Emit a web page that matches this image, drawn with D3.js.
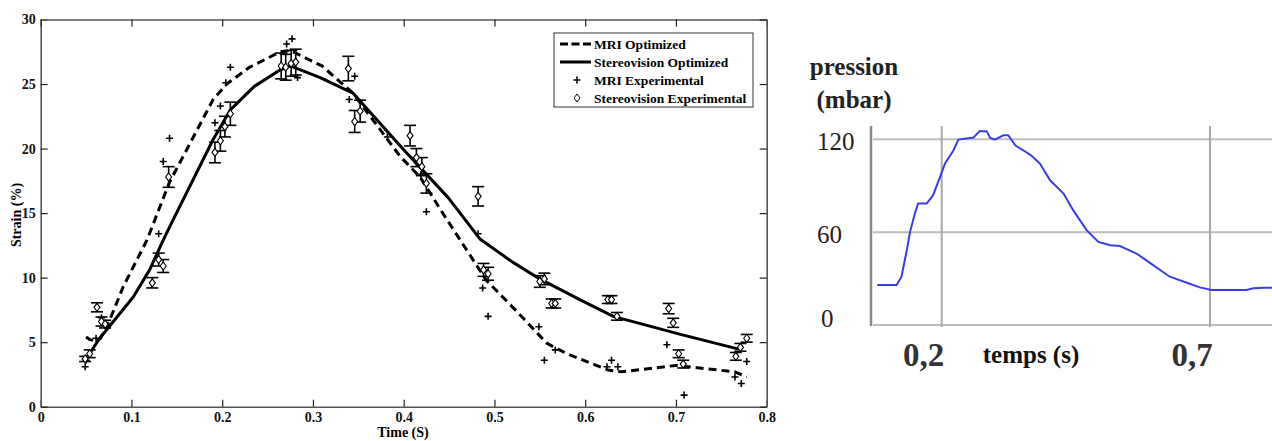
<!DOCTYPE html>
<html>
<head>
<meta charset="utf-8">
<script src="https://cdn.jsdelivr.net/npm/d3@7/dist/d3.min.js"></script>
<style>
  body { margin: 0; background: #fff; }
  svg { display: block; }
  text { font-family: "Liberation Serif", "Times New Roman", serif; }
</style>
</head>
<body>
<svg id="canvas"></svg>
<script>
// Page size
const width = 1272, height = 441;

// ---- Left chart data: strain (%) vs time (s) ----
const xTicks = [0, 0.1, 0.2, 0.3, 0.4, 0.5, 0.6, 0.7, 0.8];
const yTicks = [0, 5, 10, 15, 20, 25, 30];

// MRI Optimized (dashed)
const mriOptT = [0.05, 0.054, 0.06, 0.066, 0.076, 0.091, 0.117, 0.142, 0.19, 0.205, 0.23, 0.264, 0.275, 0.31, 0.344, 0.396, 0.418, 0.443, 0.491, 0.523, 0.558, 0.58, 0.625, 0.64, 0.70, 0.765, 0.778];
const mriOptS = [5.4, 5.2, 5.1, 5.3, 6.7, 9.3, 12.9, 17.4, 23.8, 25.0, 26.3, 27.5, 27.6, 26.4, 24.3, 19.4, 17.8, 15.0, 9.8, 7.5, 4.9, 4.1, 2.85, 2.7, 3.2, 2.7, 2.3];

// Stereovision Optimized (solid)
const stereoOptT = [0.05, 0.065, 0.102, 0.12, 0.135, 0.146, 0.19, 0.209, 0.235, 0.264, 0.275, 0.308, 0.344, 0.40, 0.449, 0.484, 0.52, 0.55, 0.594, 0.631, 0.705, 0.767, 0.774];
const stereoOptS = [3.7, 5.3, 8.5, 10.6, 12.9, 14.5, 20.7, 23.0, 24.8, 26.1, 26.4, 25.5, 24.3, 19.9, 16.2, 13.0, 11.2, 9.9, 8.3, 7.0, 5.6, 4.5, 4.6];

// MRI Experimental (+)
const mriExpT = [0.049, 0.05, 0.061, 0.067, 0.13, 0.135, 0.142, 0.192, 0.198, 0.204, 0.209, 0.271, 0.277, 0.283, 0.34, 0.346, 0.382, 0.419, 0.425, 0.482, 0.487, 0.493, 0.549, 0.555, 0.567, 0.624, 0.629, 0.636, 0.69, 0.709, 0.765, 0.772, 0.778];
const mriExpS = [3.1, 3.6, 5.3, 6.9, 13.4, 19.0, 20.8, 22.0, 23.3, 25.1, 26.3, 28.1, 28.5, 25.5, 23.8, 25.6, 20.9, 18.0, 15.1, 13.4, 9.2, 7.0, 6.2, 3.6, 4.4, 3.1, 3.6, 3.1, 4.8, 0.9, 2.3, 1.8, 3.5];

// Stereovision Experimental (diamond + error bar)
const stereoExpT = [0.049, 0.054, 0.062, 0.067, 0.071, 0.123, 0.130, 0.135, 0.141, 0.192, 0.198, 0.203, 0.209, 0.265, 0.270, 0.276, 0.281, 0.339, 0.346, 0.352, 0.407, 0.414, 0.420, 0.425, 0.482, 0.488, 0.493, 0.550, 0.555, 0.563, 0.567, 0.625, 0.629, 0.635, 0.692, 0.697, 0.703, 0.708, 0.766, 0.771, 0.778];
const stereoExpS = [3.7, 4.1, 7.7, 6.6, 6.4, 9.6, 11.4, 10.9, 17.8, 19.7, 20.6, 21.7, 22.7, 26.4, 26.3, 26.6, 26.7, 26.2, 22.1, 22.9, 21.0, 19.3, 18.6, 17.3, 16.3, 10.6, 10.3, 9.7, 9.9, 8.0, 8.0, 8.3, 8.3, 7.0, 7.6, 6.5, 4.1, 3.3, 3.9, 4.6, 5.3];
const stereoExpErr = [0.2, 0.3, 0.35, 0.35, 0.3, 0.4, 0.5, 0.5, 0.8, 0.8, 0.8, 0.8, 0.9, 1.0, 1.0, 1.0, 1.0, 0.95, 0.85, 0.85, 0.8, 0.7, 0.7, 0.75, 0.75, 0.5, 0.5, 0.45, 0.45, 0.35, 0.35, 0.3, 0.3, 0.3, 0.4, 0.35, 0.3, 0.3, 0.3, 0.3, 0.3];

const legendLabels = ["MRI Optimized", "Stereovision Optimized", "MRI Experimental", "Stereovision Experimental"];

// ---- Right chart data: pression (mbar) vs temps (s) ----
const pTicks = [0, 60, 120];
const tTicks = [0.2, 0.7];
const tTickLabels = ["0,2", "0,7"];
const presT = [0.08, 0.116, 0.125, 0.135, 0.141, 0.15, 0.156, 0.172, 0.184, 0.197, 0.206, 0.222, 0.231, 0.259, 0.271, 0.284, 0.29, 0.299, 0.315, 0.324, 0.337, 0.352, 0.367, 0.383, 0.402, 0.427, 0.445, 0.47, 0.492, 0.514, 0.532, 0.563, 0.594, 0.625, 0.657, 0.681, 0.703, 0.725, 0.768, 0.781, 0.80, 0.816];
const presP = [25.8, 25.8, 31.2, 48.4, 60.2, 72, 78.5, 78.5, 83.9, 95.7, 104.3, 112.9, 119.8, 121.1, 125.3, 125.1, 121.1, 119.8, 122.6, 122.6, 116.1, 112.9, 109.5, 104.3, 93.5, 84.9, 74.2, 61.3, 53.7, 51.6, 51, 46.2, 38.7, 31.2, 27.3, 24.3, 22.6, 22.6, 22.6, 23.7, 24.1, 24];

const svg = d3.select("#canvas")
    .attr("width", width)
    .attr("height", height);

// ================= Left chart =================
const x = d3.scaleLinear().domain([0, 0.8]).range([40.7, 766.7]);
const y = d3.scaleLinear().domain([0, 30]).range([406.7, 19.5]);

const left = svg.append("g");
const axisColor = "#555";

// Axes (MATLAB style box with inward ticks)
const gx = left.append("g")
    .attr("transform", `translate(0,${y(0)})`)
    .call(d3.axisBottom(x).tickValues(xTicks).tickFormat(d => d === 0 ? "0" : d3.format(".1f")(d))
        .tickSizeInner(-7).tickSizeOuter(0).tickPadding(5));
const gy = left.append("g")
    .attr("transform", `translate(${x(0)},0)`)
    .call(d3.axisLeft(y).tickValues(yTicks).tickSizeInner(-7).tickSizeOuter(0).tickPadding(5));
const gxTop = left.append("g")
    .attr("transform", `translate(0,${y(30)})`)
    .call(d3.axisTop(x).tickValues(xTicks).tickFormat("").tickSizeInner(-7).tickSizeOuter(0));
const gyRight = left.append("g")
    .attr("transform", `translate(${x(0.8)},0)`)
    .call(d3.axisRight(y).tickValues(yTicks).tickFormat("").tickSizeInner(-7).tickSizeOuter(0));

[gx, gy, gxTop, gyRight].forEach(g => {
    g.select(".domain").attr("stroke", axisColor).attr("stroke-width", 1.6);
    g.selectAll(".tick line").attr("stroke", "#222").attr("stroke-width", 1.2);
    g.selectAll("text")
        .attr("font-family", "Liberation Serif, serif")
        .attr("font-weight", "bold")
        .attr("font-size", 14)
        .attr("fill", "#111");
});

// Axis titles
left.append("text")
    .attr("x", 403).attr("y", 437)
    .attr("text-anchor", "middle")
    .attr("font-weight", "bold").attr("font-size", 14)
    .text("Time (S)");
left.append("text")
    .attr("transform", "translate(21,215) rotate(-90)")
    .attr("text-anchor", "middle")
    .attr("font-weight", "bold").attr("font-size", 14)
    .text("Strain (%)");

// Lines
const line = d3.line().x(d => x(d[0])).y(d => y(d[1]));

left.append("path")
    .datum(mriOptT.map((t, i) => [t, mriOptS[i]]))
    .attr("d", line)
    .attr("fill", "none")
    .attr("stroke", "#000")
    .attr("stroke-width", 3)
    .attr("stroke-linejoin", "round")
    .attr("stroke-dasharray", "8,5");

left.append("path")
    .datum(stereoOptT.map((t, i) => [t, stereoOptS[i]]))
    .attr("d", line)
    .attr("fill", "none")
    .attr("stroke", "#000")
    .attr("stroke-linejoin", "round")
    .attr("stroke-width", 3);

// MRI experimental plus markers
const plusPath = "M-3.5,0H3.5M0,-3.5V3.5";
left.append("g").selectAll("path")
    .data(mriExpT.map((t, i) => [t, mriExpS[i]]))
    .enter().append("path")
    .attr("d", plusPath)
    .attr("transform", d => `translate(${x(d[0])},${y(d[1])})`)
    .attr("stroke", "#000")
    .attr("stroke-width", 1.6);

// Stereovision experimental error bars + diamonds
const stereoPts = stereoExpT.map((t, i) => ({ t, s: stereoExpS[i], e: stereoExpErr[i] }));
const eb = left.append("g").selectAll("g")
    .data(stereoPts)
    .enter().append("g")
    .attr("stroke", "#000")
    .attr("stroke-width", 1.6)
    .attr("fill", "none");
eb.append("line")
    .attr("x1", d => x(d.t)).attr("x2", d => x(d.t))
    .attr("y1", d => y(d.s - d.e)).attr("y2", d => y(d.s + d.e));
eb.append("line")
    .attr("x1", d => x(d.t) - 6).attr("x2", d => x(d.t) + 6)
    .attr("y1", d => y(d.s + d.e)).attr("y2", d => y(d.s + d.e));
eb.append("line")
    .attr("x1", d => x(d.t) - 6).attr("x2", d => x(d.t) + 6)
    .attr("y1", d => y(d.s - d.e)).attr("y2", d => y(d.s - d.e));

const diamondPath = "M0,-4L3,0L0,4L-3,0Z";
left.append("g").selectAll("path")
    .data(stereoPts)
    .enter().append("path")
    .attr("d", diamondPath)
    .attr("transform", d => `translate(${x(d.t)},${y(d.s)})`)
    .attr("fill", "#fff")
    .attr("stroke", "#000")
    .attr("stroke-width", 1.1);

// Legend
const legend = left.append("g");
legend.append("rect")
    .attr("x", 554).attr("y", 33)
    .attr("width", 199).attr("height", 74)
    .attr("fill", "#fff")
    .attr("stroke", "#333")
    .attr("stroke-width", 1);
const legY = [44, 62, 80, 98];
legend.append("line")
    .attr("x1", 560).attr("x2", 591).attr("y1", legY[0]).attr("y2", legY[0])
    .attr("stroke", "#000").attr("stroke-width", 3).attr("stroke-dasharray", "8,3.5");
legend.append("line")
    .attr("x1", 560).attr("x2", 591).attr("y1", legY[1]).attr("y2", legY[1])
    .attr("stroke", "#000").attr("stroke-width", 3);
legend.append("path")
    .attr("d", plusPath)
    .attr("transform", `translate(577,${legY[2]})`)
    .attr("stroke", "#000").attr("stroke-width", 1.6);
legend.append("path")
    .attr("d", diamondPath)
    .attr("transform", `translate(577,${legY[3]})`)
    .attr("fill", "#fff").attr("stroke", "#000").attr("stroke-width", 1);
legend.selectAll("text")
    .data(legendLabels)
    .enter().append("text")
    .attr("x", 594)
    .attr("y", (d, i) => legY[i])
    .attr("dy", "0.35em")
    .attr("font-weight", "bold")
    .attr("font-size", 13.5)
    .text(d => d);

// ================= Right chart =================
const xp = d3.scaleLinear().domain([0.2, 0.7]).range([941.7, 1210]);
const yp = d3.scaleLinear().domain([0, 120]).range([325, 139.3]);
const right = svg.append("g");

// Gridlines
right.append("g").selectAll("line")
    .data(pTicks)
    .enter().append("line")
    .attr("x1", 873).attr("x2", width)
    .attr("y1", d => yp(d)).attr("y2", d => yp(d))
    .attr("stroke", "#bdbdbd").attr("stroke-width", 2);
right.append("g").selectAll("line")
    .data(tTicks)
    .enter().append("line")
    .attr("x1", d => xp(d)).attr("x2", d => xp(d))
    .attr("y1", 126).attr("y2", 327)
    .attr("stroke", "#a8a8a8").attr("stroke-width", 2);

// Y axis line
right.append("line")
    .attr("x1", 871).attr("x2", 871)
    .attr("y1", 126).attr("y2", 326)
    .attr("stroke", "#8a8a8a").attr("stroke-width", 2.5);

// Pressure curve
const pLine = d3.line().x(d => xp(d[0])).y(d => yp(d[1]));
right.append("path")
    .datum(presT.map((t, i) => [t, presP[i]]))
    .attr("d", pLine)
    .attr("fill", "none")
    .attr("stroke", "#3c3ce6")
    .attr("stroke-width", 2);

// Y tick labels
right.append("g").selectAll("text")
    .data(pTicks)
    .enter().append("text")
    .attr("x", d => d === 0 ? 821 : 817)
    .attr("y", d => d === 0 ? yp(d) - 7 : yp(d) + 2)
    .attr("dy", "0.35em")
    .attr("font-size", 25)
    .attr("fill", "#2a2018")
    .text(d => d);

// X tick labels
right.append("g").selectAll("text")
    .data(tTicks)
    .enter().append("text")
    .attr("x", d => xp(d) - 18)
    .attr("y", 366)
    .attr("text-anchor", "middle")
    .attr("font-weight", "bold")
    .attr("font-size", 33)
    .attr("fill", "#333")
    .text((d, i) => tTickLabels[i]);

right.append("text")
    .attr("x", 1031).attr("y", 363)
    .attr("text-anchor", "middle")
    .attr("font-weight", "bold")
    .attr("font-size", 25)
    .attr("fill", "#111")
    .text("temps (s)");

right.append("text")
    .attr("x", 854).attr("y", 75)
    .attr("text-anchor", "middle")
    .attr("font-weight", "bold")
    .attr("font-size", 25)
    .attr("fill", "#222")
    .text("pression");
right.append("text")
    .attr("x", 854).attr("y", 108)
    .attr("text-anchor", "middle")
    .attr("font-weight", "bold")
    .attr("font-size", 25)
    .attr("fill", "#222")
    .text("(mbar)");
</script>
</body>
</html>
